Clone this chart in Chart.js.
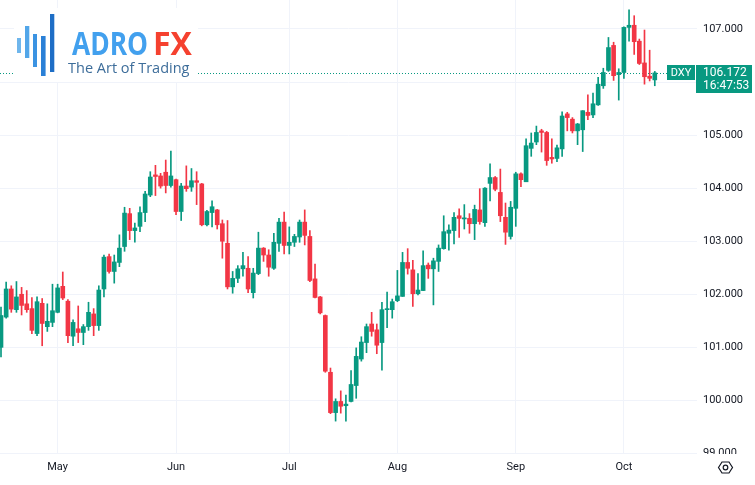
<!DOCTYPE html>
<html>
<head>
<meta charset="utf-8">
<title>DXY</title>
<script src="https://cdn.jsdelivr.net/npm/chart.js@4.4.0/dist/chart.umd.min.js"></script>
<style>
  html, body { margin: 0; padding: 0; background: #ffffff; }
  #wrap { width: 755px; height: 485px; }
</style>
</head>
<body>
<div id="wrap"><canvas id="dxychart" width="755" height="485"></canvas></div>
<script>
// daily candles, mid April -> 10 Oct
var opens = [101.00, 101.57, 102.10, 101.71, 102.00, 101.82, 101.73, 101.26, 101.83, 101.39,
  101.47, 101.66, 102.15, 101.87, 101.21, 101.35, 101.28, 101.39, 101.63, 101.41,
  102.10, 102.71, 102.43, 102.60, 102.90, 103.52, 103.20, 103.28, 103.54, 103.87,
  104.25, 104.23, 104.30, 104.05, 104.16, 103.56, 104.04, 104.02, 104.14, 104.08,
  103.31, 103.54, 103.59, 103.33, 102.96, 102.14, 102.30, 102.48, 102.49, 102.03,
  102.39, 102.87, 102.74, 102.49, 102.96, 103.36, 102.92, 102.98, 103.08, 103.36,
  103.09, 102.29, 101.95, 101.60, 100.53, 99.77, 99.98, 99.90, 99.98, 100.28,
  100.78, 101.09, 101.44, 101.33, 101.09, 101.71, 101.71, 101.88, 101.96, 102.60,
  102.46, 102.01, 102.07, 102.55, 102.48, 102.62, 102.86, 103.15, 103.20, 103.48,
  103.42, 103.43, 103.33, 103.59, 103.35, 104.09, 104.20, 103.92, 103.45, 103.09,
  103.62, 104.27, 104.12, 104.75, 104.87, 105.08, 105.05, 104.58, 104.56, 104.74,
  105.40, 105.30, 105.08, 105.10, 105.43, 105.38, 105.57, 105.93, 106.22, 106.69,
  106.14, 106.18, 107.03, 107.07, 106.77, 106.36, 106.11, 106.04];
var highs = [101.76, 102.23, 102.16, 102.24, 102.13, 102.07, 101.94, 101.95, 101.92, 101.82,
  102.19, 102.19, 102.42, 101.90, 101.52, 101.78, 101.43, 101.85, 101.73, 102.16,
  102.74, 102.76, 102.74, 103.12, 103.64, 103.62, 103.34, 103.65, 103.94, 104.31,
  104.43, 104.28, 104.53, 104.70, 104.17, 104.09, 104.42, 104.37, 104.31, 104.09,
  103.58, 103.76, 103.60, 103.40, 103.39, 102.43, 102.54, 102.79, 102.71, 102.49,
  103.17, 102.88, 102.84, 103.15, 103.43, 103.55, 103.27, 103.13, 103.40, 103.59,
  103.20, 102.57, 101.96, 101.61, 100.61, 100.03, 100.18, 100.10, 100.56, 100.99,
  101.20, 101.44, 101.66, 101.44, 101.85, 102.04, 101.91, 102.45, 102.79, 102.86,
  102.64, 102.39, 102.82, 102.59, 102.68, 102.93, 103.48, 103.31, 103.54, 103.61,
  103.69, 103.52, 103.68, 103.99, 104.01, 104.46, 104.22, 104.36, 103.72, 103.75,
  104.30, 104.29, 104.93, 105.04, 105.17, 105.11, 105.07, 104.93, 104.81, 105.44,
  105.43, 105.33, 105.22, 105.46, 105.76, 105.79, 106.09, 106.26, 106.84, 106.75,
  106.25, 107.04, 107.36, 107.25, 106.81, 106.98, 106.60, 106.20];
var lows = [100.82, 101.55, 101.66, 101.66, 101.61, 101.66, 101.26, 101.22, 101.03, 101.30,
  101.39, 101.65, 101.90, 101.09, 101.03, 101.09, 101.05, 101.32, 101.22, 101.32,
  101.95, 102.40, 102.21, 102.52, 102.81, 103.03, 102.98, 103.18, 103.37, 103.84,
  103.86, 104.00, 103.91, 104.02, 103.50, 103.39, 103.94, 103.94, 103.69, 103.29,
  103.29, 103.27, 103.23, 102.68, 102.10, 102.02, 102.22, 102.34, 102.03, 101.93,
  102.37, 102.62, 102.34, 102.47, 102.81, 102.76, 102.76, 102.90, 102.98, 102.93,
  102.24, 101.93, 101.63, 100.53, 99.75, 99.61, 99.76, 99.61, 99.97, 100.04,
  100.74, 100.90, 101.21, 100.88, 100.57, 101.37, 101.55, 101.86, 101.96, 102.38,
  101.77, 101.99, 102.07, 102.30, 101.80, 102.43, 102.85, 102.83, 102.95, 103.07,
  103.23, 103.15, 103.03, 103.32, 103.28, 103.76, 103.95, 103.37, 102.94, 103.04,
  103.28, 104.03, 104.12, 104.60, 104.82, 104.68, 104.43, 104.47, 104.50, 104.60,
  105.08, 105.04, 104.82, 104.69, 105.29, 105.33, 105.56, 105.88, 106.20, 106.03,
  105.66, 106.07, 106.77, 106.52, 106.33, 105.96, 106.02, 105.93];
var closes = [101.60, 102.10, 101.72, 101.95, 101.79, 101.71, 101.32, 101.86, 101.45, 101.49,
  101.69, 102.12, 101.93, 101.22, 101.47, 101.28, 101.39, 101.66, 101.41, 102.08,
  102.70, 102.43, 102.61, 102.87, 103.53, 103.20, 103.25, 103.54, 103.89, 104.21,
  104.22, 104.04, 104.05, 104.23, 103.56, 104.04, 103.99, 104.14, 104.11, 103.31,
  103.56, 103.65, 103.31, 103.00, 102.14, 102.30, 102.48, 102.54, 102.10, 102.40,
  102.87, 102.74, 102.51, 102.98, 103.36, 102.92, 102.98, 103.09, 103.36, 103.11,
  102.26, 101.94, 101.65, 100.55, 99.77, 99.98, 99.89, 99.93, 100.30, 100.83,
  101.10, 101.39, 101.30, 101.04, 101.71, 101.72, 101.86, 101.97, 102.60, 102.49,
  102.01, 102.08, 102.54, 102.48, 102.63, 102.87, 103.18, 103.21, 103.45, 103.43,
  103.44, 103.33, 103.60, 103.37, 104.00, 104.20, 103.98, 103.48, 103.17, 103.64,
  104.27, 104.16, 104.80, 104.85, 105.05, 105.05, 104.52, 104.55, 104.76, 105.36,
  105.33, 105.08, 105.21, 105.46, 105.37, 105.59, 105.96, 106.18, 106.65, 106.12,
  106.18, 107.03, 107.07, 106.76, 106.35, 106.10, 106.07, 106.172];

var monthLabels = ['May', 'Jun', 'Jul', 'Aug', 'Sep', 'Oct'];
var monthStart = [11, 34, 56, 77, 100, 121];   // candle index of first day of month
var priceTicks = [99, 100, 101, 102, 103, 104, 105, 106, 107];

var symbol = 'DXY';
var lastPrice = 106.172;
var countdown = '16:47:53';

var upColor = '#089981';
var downColor = '#f23645';
var textColor = '#131722';
var gridColor = '#f0f3fa';

var colors = closes.map(function(c, i) { return c >= opens[i] ? upColor : downColor; });
var wickData = lows.map(function(l, i) { return {x: i, y: [l, highs[i]]}; });
var bodyData = opens.map(function(o, i) { return {x: i, y: [o, closes[i]]}; });

Chart.defaults.font.family = "Roboto, 'Liberation Sans', sans-serif";
Chart.defaults.font.size = 11;
Chart.defaults.color = textColor;

function drawLogo(ctx) {
  ctx.save();
  ctx.fillStyle = '#ffffff';
  ctx.fillRect(14, 8, 184, 74);
  // icon bars
  var bars = [[17, 38, 4, 15, '#6fb6ec'], [25, 26, 4.3, 32, '#52a6e9'], [33, 34, 4, 33, '#3b93e2'],
              [41, 36, 4.6, 40, '#2a80d7'], [50, 14, 4.3, 58, '#1e6ec6']];
  bars.forEach(function(b) { ctx.fillStyle = b[4]; ctx.fillRect(b[0], b[1], b[2], b[3]); });
  ctx.textBaseline = 'alphabetic';
  ctx.textAlign = 'left';
  ctx.font = "700 32px 'Open Sans', sans-serif";
  ctx.fillStyle = '#42a0ee';
  ctx.fillText('ADRO', 72, 55, 76);
  ctx.fillStyle = '#f5412f';
  ctx.fillText('FX', 153, 55, 43);
  ctx.font = "14.5px 'Open Sans', sans-serif";
  ctx.fillStyle = '#3d6d9a';
  ctx.fillText('The Art of Trading', 68, 73, 128);
  ctx.restore();
}

function noPadding(scale) {
  scale.paddingTop = 0;
  scale.paddingBottom = 0;
  scale.paddingLeft = 0;
  scale.paddingRight = 0;
}

var overlay = {
  id: 'overlay',
  beforeDatasetsDraw: function(chart) {
    var ctx = chart.ctx, area = chart.chartArea;
    var y = Math.round(chart.scales.y.getPixelForValue(lastPrice)) + 0.5;
    ctx.save();
    ctx.strokeStyle = upColor;
    ctx.lineWidth = 1;
    ctx.setLineDash([1, 2]);
    ctx.beginPath();
    ctx.moveTo(area.left, y);
    ctx.lineTo(area.right - 30, y);
    ctx.stroke();
    ctx.restore();
    drawLogo(ctx);
  },
  afterDraw: function(chart) {
    var ctx = chart.ctx, area = chart.chartArea;
    var y = Math.round(chart.scales.y.getPixelForValue(lastPrice));
    ctx.save();
    // hide the part of the lowest price label under the pane
    ctx.fillStyle = '#ffffff';
    ctx.fillRect(area.right, area.bottom, chart.width - area.right, chart.height - area.bottom);
    // symbol box + price box
    ctx.fillStyle = upColor;
    ctx.fillRect(area.right - 30, y - 8, 28, 15);
    ctx.fillRect(area.right - 1, y - 8, 56, 28);
    ctx.fillStyle = '#ffffff';
    ctx.textBaseline = 'middle';
    ctx.textAlign = 'center';
    ctx.font = "11px Roboto, 'Liberation Sans', sans-serif";
    ctx.fillText(symbol, area.right - 16, y);
    ctx.textAlign = 'left';
    ctx.font = "12px Roboto, 'Liberation Sans', sans-serif";
    ctx.fillText(lastPrice.toFixed(3), area.right + 6, y);
    ctx.fillText(countdown, area.right + 6, y + 13);
    // settings icon
    var cx = 725.5, cy = 467.5;
    ctx.strokeStyle = textColor;
    ctx.lineWidth = 1.2;
    ctx.beginPath();
    ctx.moveTo(cx - 7, cy);
    ctx.lineTo(cx - 3.5, cy - 5.5);
    ctx.lineTo(cx + 3.5, cy - 5.5);
    ctx.lineTo(cx + 7, cy);
    ctx.lineTo(cx + 3.5, cy + 5.5);
    ctx.lineTo(cx - 3.5, cy + 5.5);
    ctx.closePath();
    ctx.stroke();
    ctx.beginPath();
    ctx.arc(cx, cy, 2.3, 0, Math.PI * 2);
    ctx.stroke();
    ctx.restore();
  }
};

new Chart(document.getElementById('dxychart'), {
  type: 'bar',
  data: {
    datasets: [
      {
        label: 'wick',
        data: wickData,
        backgroundColor: colors,
        barThickness: 1,
        grouped: false,
        order: 2
      },
      {
        label: 'body',
        data: bodyData,
        backgroundColor: colors,
        barThickness: 4,
        minBarLength: 1,
        grouped: false,
        order: 1
      }
    ]
  },
  options: {
    responsive: false,
    animation: false,
    devicePixelRatio: 1,
    layout: { padding: 0 },
    plugins: {
      legend: { display: false },
      tooltip: { enabled: false }
    },
    scales: {
      x: {
        type: 'linear',
        offset: false,
        min: -0.194,
        max: 135.2,
        position: 'bottom',
        grid: { color: gridColor, drawTicks: false, offset: false },
        border: { display: false },
        afterBuildTicks: function(scale) {
          scale.ticks = monthStart.map(function(v) { return {value: v}; });
        },
        afterFit: function(scale) { scale.height = 31; noPadding(scale); },
        ticks: {
          autoSkip: false,
          maxRotation: 0,
          padding: 7,
          color: textColor,
          callback: function(v) {
            var k = monthStart.indexOf(v);
            return k >= 0 ? monthLabels[k] : '';
          }
        }
      },
      y: {
        type: 'linear',
        position: 'right',
        min: 98.99,
        max: 107.546,
        grid: { color: gridColor, drawTicks: false },
        border: { display: false },
        afterBuildTicks: function(scale) {
          scale.ticks = priceTicks.map(function(v) { return {value: v}; });
        },
        afterFit: function(scale) { scale.width = 58; noPadding(scale); },
        ticks: {
          padding: 6,
          color: textColor,
          callback: function(v) { return Number(v).toFixed(3); }
        }
      }
    }
  },
  plugins: [overlay]
});
</script>
</body>
</html>
